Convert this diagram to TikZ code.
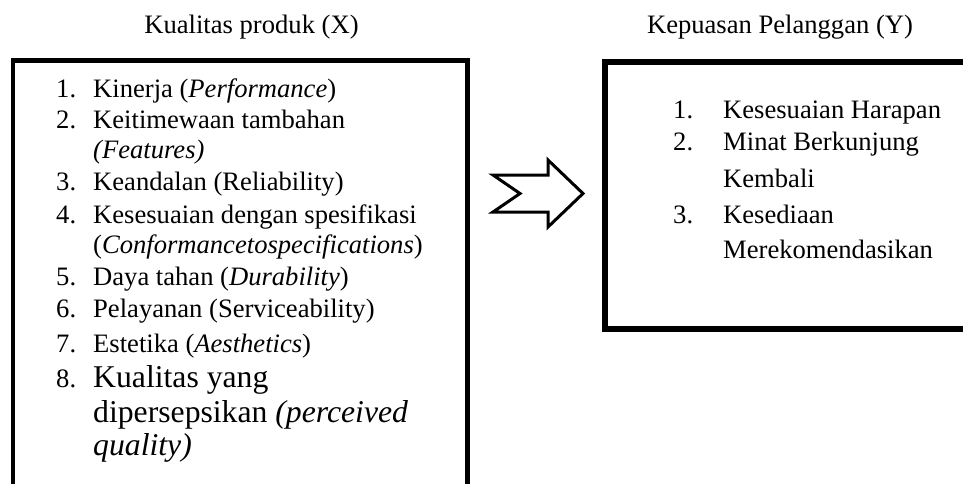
\documentclass[tikz,border=0pt]{standalone}
\usepackage{fontspec}
\setmainfont{Liberation Serif}
\begin{document}
\begin{tikzpicture}[x=1pt,y=-1pt,
  txt/.style={anchor=base west,inner sep=0pt,font=\fontsize{26.6}{31}\selectfont},
  big/.style={anchor=base west,inner sep=0pt,font=\fontsize{31.7}{35}\selectfont},
  ttl/.style={anchor=base,inner sep=0pt,font=\fontsize{26.6}{31}\selectfont},
  boxA/.style={draw=black,line width=4.5pt},
  boxB/.style={draw=black,line width=6pt},
  arr/.style={draw=black,line width=3pt,line join=miter}]
\clip (0,0) rectangle (963,483);
\fill[white] (0,0) rectangle (963,483);
% titles
\node[ttl] (tX) at (251.5,33) {Kualitas produk (X)};
\node[ttl] (tY) at (780,33) {Kepuasan Pelanggan (Y)};
% boxes
\draw[boxA] (13,60.5) rectangle (467.5,500);
\draw[boxB] (605,61.5) rectangle (990,328.5);
% left list
\node[txt] (n1) at (56,97) {1.};
\node[txt] (l1) at (93,97) {Kinerja (\textit{Performance})};
\node[txt] (n2) at (56,128) {2.};
\node[txt] (l2) at (93,128) {Keitimewaan tambahan};
\node[txt] (l2b) at (93,158) {\textit{(Features)}};
\node[txt] (n3) at (56,190) {3.};
\node[txt] (l3) at (93,190) {Keandalan (Reliability)};
\node[txt] (n4) at (56,223) {4.};
\node[txt] (l4) at (93,223) {Kesesuaian dengan spesifikasi};
\node[txt] (l4b) at (93,253) {(\textit{Conformancetospecifications})};
\node[txt] (n5) at (56,285) {5.};
\node[txt] (l5) at (93,285) {Daya tahan (\textit{Durability})};
\node[txt] (n6) at (56,317) {6.};
\node[txt] (l6) at (93,317) {Pelayanan (Serviceability)};
\node[txt] (n7) at (56,352) {7.};
\node[txt] (l7) at (93,352) {Estetika (\textit{Aesthetics})};
\node[txt] (n8) at (56,387) {8.};
\node[big] (l8) at (93,387) {Kualitas yang};
\node[big] (l8b) at (93,422) {dipersepsikan \textit{(perceived}};
\node[big] (l8c) at (93,455) {\textit{quality)}};
% right list
\node[txt] (r1n) at (673,118) {1.};
\node[txt] (r1) at (723,118) {Kesesuaian Harapan};
\node[txt] (r2n) at (673,150) {2.};
\node[txt] (r2) at (723,150) {Minat Berkunjung};
\node[txt] (r2b) at (723,187) {Kembali};
\node[txt] (r3n) at (673,223) {3.};
\node[txt] (r3) at (723,223) {Kesediaan};
\node[txt] (r3b) at (723,258) {Merekomendasikan};
% arrow
\draw[arr] (493,175) -- (548,175) -- (548,160) -- (583,193.5) -- (548,227) -- (548,212) -- (493,212) -- (520,193.5) -- cycle;
\end{tikzpicture}
\end{document}
